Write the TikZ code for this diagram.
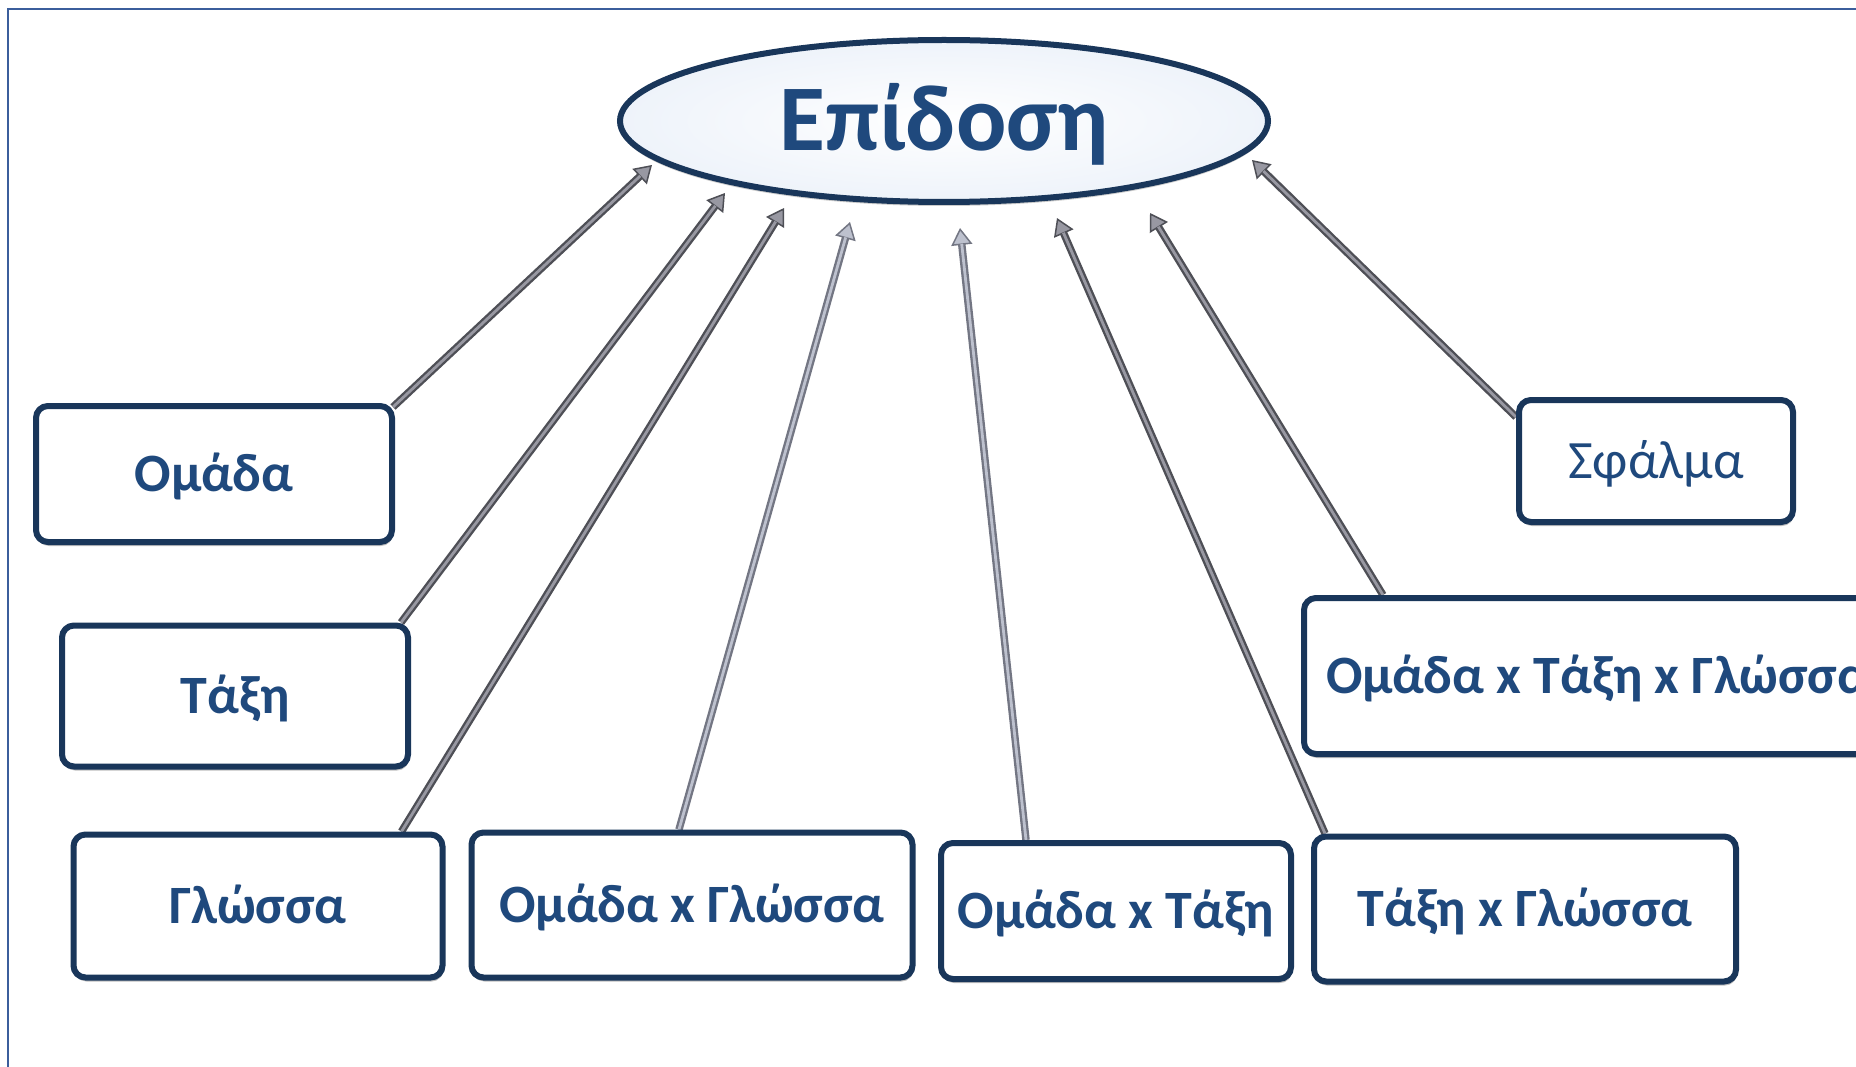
\documentclass[tikz,border=0pt]{standalone}
\usepackage{fontspec}
\usepackage{graphicx}
\setmainfont{Carlito}
\usetikzlibrary{arrows.meta,shapes.geometric,shadows,calc,backgrounds}
\definecolor{txt}{HTML}{1F497D}
\definecolor{navy}{HTML}{19365A}
\definecolor{framec}{HTML}{3B5E9C}
\definecolor{tubeo}{HTML}{4E4F56}
\definecolor{tubei}{HTML}{9898A2}
\definecolor{tubeol}{HTML}{737683}
\definecolor{tubeil}{HTML}{BDC1CE}
\definecolor{elltint}{HTML}{EEF3FA}
\tikzset{
  box/.style={rectangle, rounded corners=12pt, draw=navy, line width=6pt, fill=white,
    inner sep=0pt, text=txt, font=\fontsize{54}{60}\selectfont\bfseries,
    text height=35pt, text depth=0pt,
    drop shadow={shadow xshift=1pt, shadow yshift=-4pt, opacity=0.25, fill=black}},
  ell/.style={ellipse, draw=navy, line width=6pt, inner color=white, outer color=elltint,
    inner sep=0pt, minimum width=648pt, minimum height=162pt, text=txt,
    font=\fontsize{94}{100}\selectfont\bfseries, text height=60pt, text depth=0pt,
    drop shadow={shadow xshift=0pt, shadow yshift=-4pt, opacity=0.2, fill=black}},
  tube/.style={draw=tubeo, line width=7.5pt,
    -{Triangle[length=17pt,width=21pt,fill=tubei,line width=1.5pt]},
    postaction={draw=tubei, line width=2.8pt, -, shorten >=16pt}},
  tubel/.style={draw=tubeol, line width=7.5pt,
    -{Triangle[length=17pt,width=21pt,fill=tubeil,line width=1.5pt]},
    postaction={draw=tubeil, line width=2.8pt, -, shorten >=16pt}},
  frameline/.style={draw=framec, line width=2.5pt}
}
\begin{document}
\begin{tikzpicture}[x=1pt,y=-1pt]
\useasboundingbox (0,0) rectangle (1856,1067);
\clip (0,0) rectangle (1856,1067);
% nodes
\node[ell] (P) at (944,121) {Επίδοση};
\node[box, minimum width=356pt, minimum height=136pt] (A) at (214,474) {Ομάδα};
\node[box, minimum width=346pt, minimum height=141pt] (B) at (235,696) {Τάξη};
\node[box, minimum width=369pt, minimum height=143pt] (C) at (258,906) {Γλώσσα};
\node[box, minimum width=441pt, minimum height=145pt] (D) at (692,905) {Ομάδα x Γλώσσα};
\node[box, minimum width=350pt, minimum height=136pt] (E) at (1116,911) {Ομάδα x Τάξη};
\node[box, minimum width=422pt, minimum height=145pt] (F) at (1525,909) {Τάξη x Γλώσσα};
\node[box, minimum width=274pt, minimum height=122pt, font=\fontsize{54}{60}\selectfont] (G) at (1656,461) {Σφάλμα};
\node[box, anchor=west, minimum height=156pt, inner xsep=22pt] (H) at (1301,676) {Ομάδα x Τάξη x Γλώσσα};
% arrow tips
\coordinate (t1) at (652,165);
\coordinate (t2) at (725,193);
\coordinate (t3) at (784,208);
\coordinate (t4) at (850,222);
\coordinate (t5) at (960,228);
\coordinate (t6) at (1057,218);
\coordinate (t7) at (1150,213);
\coordinate (t8) at (1252,160);
\begin{pgfonlayer}{background}
\fill[white] (0,0) rectangle (1856,1067);
\draw[frameline] (8,1080) -- (8,9) -- (1870,9);
\draw[tube] ([xshift=-2pt,yshift=-4pt]A.north east) -- (t1);
\draw[tube] ([xshift=-10pt]B.north east) -- (t2);
\draw[tube] ([xshift=-44pt]C.north east) -- (t3);
\draw[tubel] ([xshift=-13pt]D.north) -- (t4);
\draw[tubel] ([xshift=-90pt]E.north) -- (t5);
\draw[tube] ([xshift=14pt]F.north west) -- (t6);
\draw[tube] ([xshift=82pt]H.north west) -- (t7);
\draw[tube] ([yshift=-20pt]G.north west) -- (t8);
\end{pgfonlayer}
\end{tikzpicture}
\end{document}
